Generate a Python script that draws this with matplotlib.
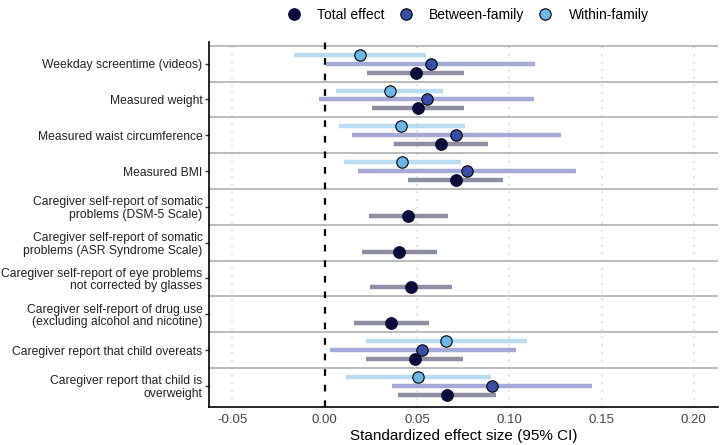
import matplotlib
matplotlib.use('Agg')
import matplotlib.pyplot as plt
from matplotlib.lines import Line2D

plt.rcParams['font.family'] = ['Liberation Sans', 'DejaVu Sans']

labels = [
    'Weekday screentime (videos)',
    'Measured weight',
    'Measured waist circumference',
    'Measured BMI',
    'Caregiver self-report of somatic\nproblems (DSM-5 Scale)',
    'Caregiver self-report of somatic\nproblems (ASR Syndrome Scale)',
    'Caregiver self-report of eye problems\nnot corrected by glasses',
    'Caregiver self-report of drug use\n(excluding alcohol and nicotine)',
    'Caregiver report that child overeats',
    'Caregiver report that child is\noverweight',
]

# total effect (all rows)
total_est = [0.0497, 0.0506, 0.0628, 0.0709, 0.0451, 0.0403, 0.0468, 0.0361, 0.0489, 0.0663]
total_lo = [0.0231, 0.0255, 0.0374, 0.0450, 0.0238, 0.0200, 0.0247, 0.0157, 0.0226, 0.0399]
total_hi = [0.0757, 0.0755, 0.0887, 0.0968, 0.0666, 0.0607, 0.0692, 0.0563, 0.0751, 0.0930]

# between / within family (only some rows)
fam_rows = [0, 1, 2, 3, 8, 9]
between_est = [0.0574, 0.0553, 0.0713, 0.0773, 0.0529, 0.0906]
between_lo = [0.0005, -0.0030, 0.0146, 0.0182, 0.0027, 0.0365]
between_hi = [0.1138, 0.1136, 0.1282, 0.1363, 0.1035, 0.1446]
within_est = [0.0191, 0.0352, 0.0415, 0.0419, 0.0657, 0.0507]
within_lo = [-0.0168, 0.0063, 0.0078, 0.0103, 0.0222, 0.0114]
within_hi = [0.0551, 0.0643, 0.0758, 0.0740, 0.1098, 0.0903]

C_TOT, L_TOT = '#0b0c3a', '#8d8ea2'
C_BET, L_BET = '#3a4ea6', '#a4a9d6'
C_WIT, L_WIT = '#6db7e6', '#b9dcf3'

fig = plt.figure(figsize=(7.2, 4.45), dpi=100)
ax = fig.add_axes([0.290, 0.0854, 0.707, 0.8206])

off = 0.25
# separators between rows
for b in [i - 0.5 for i in range(len(labels))]:
    ax.axhline(b, color='#a8a8a8', lw=1.1, zorder=1)
for xv in [-0.05, 0.05, 0.10, 0.15, 0.20]:
    ax.axvline(xv, color='#cfcfcf', lw=1.1, ls=(0, (1, 4)), zorder=0)
ax.axvline(0, color='black', lw=1.6, ls=(0, (3, 4)), zorder=2)

# total effect
for i in range(len(labels)):
    y = i + off
    ax.plot([total_lo[i], total_hi[i]], [y, y], color=L_TOT, lw=3.2,
            solid_capstyle='butt', zorder=3)
    ax.plot(total_est[i], y, 'o', color=C_TOT, ms=8.2, mec=C_TOT, zorder=5)

for k, r in enumerate(fam_rows):
    yb = r
    ax.plot([between_lo[k], between_hi[k]], [yb, yb], color=L_BET, lw=3.2,
            solid_capstyle='butt', zorder=3)
    ax.plot(between_est[k], yb, 'o', color=C_BET, ms=8.2, mec='black', mew=0.8, zorder=5)
    yw = r - off
    ax.plot([within_lo[k], within_hi[k]], [yw, yw], color=L_WIT, lw=3.2,
            solid_capstyle='butt', zorder=3)
    ax.plot(within_est[k], yw, 'o', color=C_WIT, ms=8.2, mec='black', mew=0.8, zorder=5)

ax.set_ylim(9.59, -0.61)
ax.set_xlim(-0.0628, 0.213)
ax.set_yticks(range(len(labels)))
ax.set_yticklabels(labels, fontsize=8.7, color='#222222', linespacing=1.05)
ax.set_xticks([-0.05, 0.0, 0.05, 0.10, 0.15, 0.20])
ax.set_xticklabels(['-0.05', '0.00', '0.05', '0.10', '0.15', '0.20'], fontsize=9.5, color='#444444')
ax.tick_params(axis='y', length=3, width=1, color='#333333', pad=1.5)
ax.tick_params(axis='x', length=0, pad=5)
ax.set_xlabel('Standardized effect size (95% CI)', fontsize=11, color='black', labelpad=2)
for s in ['top', 'right']:
    ax.spines[s].set_visible(False)
for s in ['left', 'bottom']:
    ax.spines[s].set_color('black')
    ax.spines[s].set_linewidth(1.2)

handles = [
    Line2D([], [], ls='none', marker='o', ms=8.2, color=C_TOT, mec=C_TOT, label='Total effect'),
    Line2D([], [], ls='none', marker='o', ms=8.2, color=C_BET, mec='black', mew=0.8, label='Between-family'),
    Line2D([], [], ls='none', marker='o', ms=8.2, color=C_WIT, mec='black', mew=0.8, label='Within-family'),
]
fig.legend(handles=handles, loc='upper center', bbox_to_anchor=(0.645, 1.01), ncol=3,
           frameon=False, fontsize=10, handletextpad=0.7, columnspacing=0.5)

fig.savefig('out.png', dpi=100)
